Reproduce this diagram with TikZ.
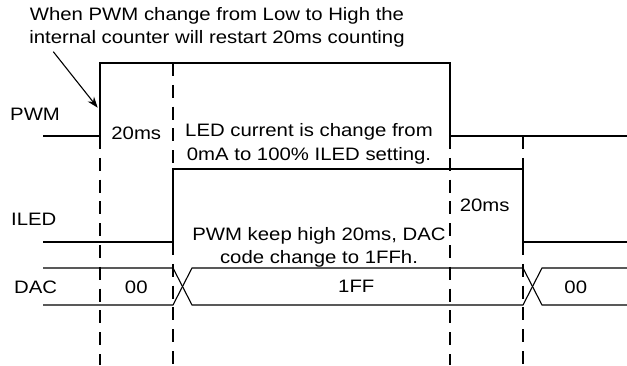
\documentclass[tikz,border=0pt]{standalone}
\usepackage{fontspec}
\setmainfont{Liberation Sans}[FakeStretch=1.13]
\usetikzlibrary{arrows.meta}
\begin{document}
\begin{tikzpicture}[x=1pt,y=-1pt,
  wave/.style={line width=1.1pt,line join=miter},
  guide/.style={line width=1.1pt,dash pattern=on 13pt off 8.8pt},
  lbl/.style={inner sep=0pt,font=\fontsize{18}{23}\selectfont},
  note/.style={inner sep=0pt,align=center,font=\fontsize{18}{23}\selectfont},
  pointer/.style={line width=1.1pt,-{Stealth[length=11pt,width=8pt]}}]
\useasboundingbox (0,0) rectangle (627,365);
% coordinates of the waveforms
\coordinate (pL) at (43,136);
\coordinate (pR1) at (100,136);
\coordinate (pH1) at (100,63);
\coordinate (pH2) at (450,63);
\coordinate (pR2) at (450,136);
\coordinate (pE) at (627,136);
\coordinate (iL) at (43,242);
\coordinate (iR1) at (173,242);
\coordinate (iH1) at (173,169);
\coordinate (iH2) at (523,169);
\coordinate (iR2) at (523,242);
\coordinate (iE) at (627,242);
% PWM
\draw[wave] (pL) -- (pR1) -- (pH1) -- (pH2) -- (pR2) -- (pE);
% ILED
\draw[wave] (iL) -- (iR1) -- (iH1) -- (iH2) -- (iR2) -- (iE);
% DAC bus
\draw[wave] (43,268) -- (173,268) -- (192,305) -- (523,305) -- (542,268) -- (627,268);
\draw[wave] (43,305) -- (173,305) -- (192,268) -- (523,268) -- (542,305) -- (627,305);
% guide lines
\coordinate (g1b) at (100,365);
\coordinate (g2b) at (173,365);
\coordinate (g3b) at (450,365);
\coordinate (g4b) at (523,365);
\coordinate (g4t) at (523,136);
\draw[guide] (pR1) -- (g1b);
\draw[guide] (173,63) -- (iH1);
\draw[guide] (iR1) -- (g2b);
\draw[guide] (pR2) -- (g3b);
\draw[guide] (g4t) -- (iH2);
\draw[guide] (iR2) -- (g4b);
% labels
\node[lbl,anchor=base west] (lpwm) at (10,120) {PWM};
\node[lbl,anchor=base west] (liled) at (11,225.7) {ILED};
\node[lbl,anchor=base west] (ldac) at (14,293) {DAC};
\node[lbl,anchor=base] (t20a) at (136.3,139.3) {20ms};
\node[lbl,anchor=base] (t20b) at (484.7,211) {20ms};
\node[lbl,anchor=base] (d00a) at (136.3,293) {00};
\node[lbl,anchor=base] (d1ff) at (356.3,292.7) {1FF};
\node[lbl,anchor=base] (d00b) at (575.8,293) {00};
\node[note] (ntop) at (217,26.9) {When PWM change from Low to High the\\internal counter will restart 20ms counting};
\node[note,font=\fontsize{18}{24}\selectfont] (nled) at (309,143.4) {LED current is change from\\0mA to 100\% ILED setting.};
\node[note] (ndac) at (319,246.9) {PWM keep high 20ms, DAC\\code change to 1FFh.};
% pointer
\coordinate (arrS) at (53.3,51.7);
\coordinate (arrE) at (97.7,107.7);
\draw[pointer] (arrS) -- (arrE);
\end{tikzpicture}
\end{document}
